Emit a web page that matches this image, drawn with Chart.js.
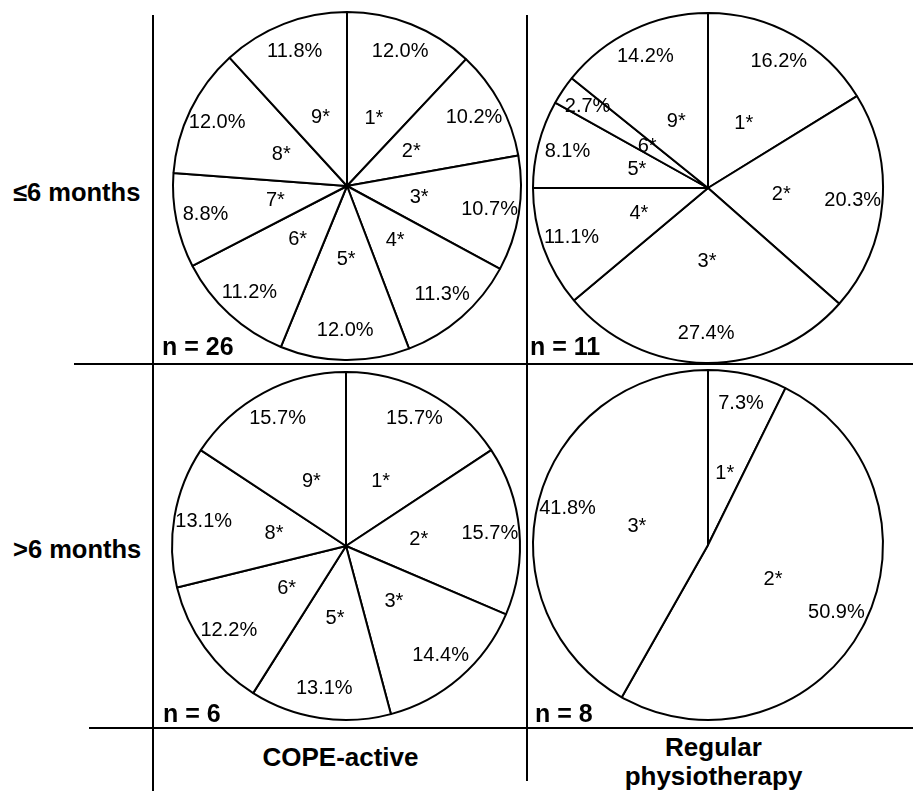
<!DOCTYPE html>
<html>
<head>
<meta charset="utf-8">
<script src="https://cdn.jsdelivr.net/npm/chart.js@4"></script>
<style>
  body { margin: 0; background: #fff; }
  #page { position: relative; width: 913px; height: 791px; overflow: hidden; font-family: "Liberation Sans", Arial, sans-serif; }
  .line { position: absolute; background: #000; }
  .lbl { position: absolute; font-weight: bold; white-space: nowrap; color: #000; }
  canvas { position: absolute; }
</style>
</head>
<body>
<div id="page"></div>
<script>
// ==========================================
// DATA
// ==========================================
const rowLabels = ['≤6 months', '>6 months'];
const colLabels = [['COPE-active'], ['Regular', 'physiotherapy']];

// <=6 months
const copeShortCats = ['1*', '2*', '3*', '4*', '5*', '6*', '7*', '8*', '9*'];
const copeShortVals = [12.0, 10.2, 10.7, 11.3, 12.0, 11.2, 8.8, 12.0, 11.8];
const regShortCats = ['1*', '2*', '3*', '4*', '5*', '6*', '9*'];
const regShortVals = [16.2, 20.3, 27.4, 11.1, 8.1, 2.7, 14.2];

// >6 months
const copeLongCats = ['1*', '2*', '3*', '5*', '6*', '8*', '9*'];
const copeLongVals = [15.7, 15.7, 14.4, 13.1, 12.2, 13.1, 15.7];
const regLongCats = ['1*', '2*', '3*'];
const regLongVals = [7.3, 50.9, 41.8];

const sampleSizes = [26, 11, 6, 8];

// ==========================================
// LAYOUT (centre/radius of each pie, n label spot)
// ==========================================
const page = document.getElementById('page');

const panels = [
    { cats: copeShortCats, vals: copeShortVals, n: sampleSizes[0], cx: 346.5, cy: 186, r: 174, nx: 162, ny: 355 },
    { cats: regShortCats,  vals: regShortVals,  n: sampleSizes[1], cx: 708.3, cy: 188, r: 175, nx: 530, ny: 355 },
    { cats: copeLongCats,  vals: copeLongVals,  n: sampleSizes[2], cx: 346.3, cy: 546, r: 174, nx: 163, ny: 722.5 },
    { cats: regLongCats,   vals: regLongVals,   n: sampleSizes[3], cx: 707.5, cy: 545, r: 175, nx: 535, ny: 722 }
];

function addLine(x, y, w, h) {
    const el = document.createElement('div');
    el.className = 'line';
    el.style.left = x + 'px';
    el.style.top = y + 'px';
    el.style.width = w + 'px';
    el.style.height = h + 'px';
    page.appendChild(el);
}

// baseline-based placement (Liberation Sans ascent ~0.905, descent ~0.212)
function addText(txt, x, baseline, size, center) {
    const el = document.createElement('div');
    el.className = 'lbl';
    el.textContent = txt;
    el.style.fontSize = size + 'px';
    el.style.lineHeight = size + 'px';
    el.style.top = (baseline - 0.8465 * size) + 'px';
    if (center) {
        el.style.left = (x - 200) + 'px';
        el.style.width = '400px';
        el.style.textAlign = 'center';
    } else {
        el.style.left = x + 'px';
    }
    page.appendChild(el);
}

// grid lines
addLine(152, 15, 2, 776);
addLine(526, 15, 2, 766);
addLine(74, 363, 839, 2);
addLine(89, 727, 824, 2);

// row / column headers
addText(rowLabels[0], 13, 202, 25.5, false);
addText(rowLabels[1], 13, 559, 25.5, false);
addText(colLabels[0][0], 340.5, 766, 26, true);
addText(colLabels[1][0], 713.5, 756, 26, true);
addText(colLabels[1][1], 713.5, 785, 26, true);

// ==========================================
// SLICE LABELS PLUGIN
// ==========================================
const sliceLabels = {
    id: 'sliceLabels',
    afterDatasetsDraw(chart) {
        const ctx = chart.ctx;
        const meta = chart.getDatasetMeta(0);
        const cats = chart.data.labels;
        const vals = chart.data.datasets[0].data;
        ctx.save();
        ctx.fillStyle = '#000';
        ctx.font = '20px "Liberation Sans", Arial, sans-serif';
        ctx.textAlign = 'center';
        ctx.textBaseline = 'middle';
        meta.data.forEach((arc, i) => {
            const p = arc.getProps(['x', 'y', 'startAngle', 'endAngle', 'outerRadius'], true);
            const mid = (p.startAngle + p.endAngle) / 2;
            const put = (txt, k) => ctx.fillText(txt,
                p.x + Math.cos(mid) * p.outerRadius * k,
                p.y + Math.sin(mid) * p.outerRadius * k);
            put(vals[i].toFixed(1) + '%', 0.83);
            put(cats[i], 0.42);
        });
        ctx.restore();
    }
};

// ==========================================
// PIES
// ==========================================
panels.forEach(pn => {
    const size = 2 * pn.r + 10;
    const cv = document.createElement('canvas');
    cv.width = size;
    cv.height = size;
    cv.style.left = (pn.cx - size / 2) + 'px';
    cv.style.top = (pn.cy - size / 2) + 'px';
    page.appendChild(cv);

    new Chart(cv.getContext('2d'), {
        type: 'pie',
        data: {
            labels: pn.cats,
            datasets: [{
                data: pn.vals,
                backgroundColor: '#fff',
                borderColor: '#000',
                borderWidth: 2,
                hoverOffset: 0,
                offset: 0
            }]
        },
        options: {
            responsive: false,
            animation: false,
            events: [],
            layout: { padding: 4 },
            plugins: { legend: { display: false }, tooltip: { enabled: false } }
        },
        plugins: [sliceLabels]
    });

    addText('n = ' + pn.n, pn.nx, pn.ny, 25, false);
});
</script>
</body>
</html>
